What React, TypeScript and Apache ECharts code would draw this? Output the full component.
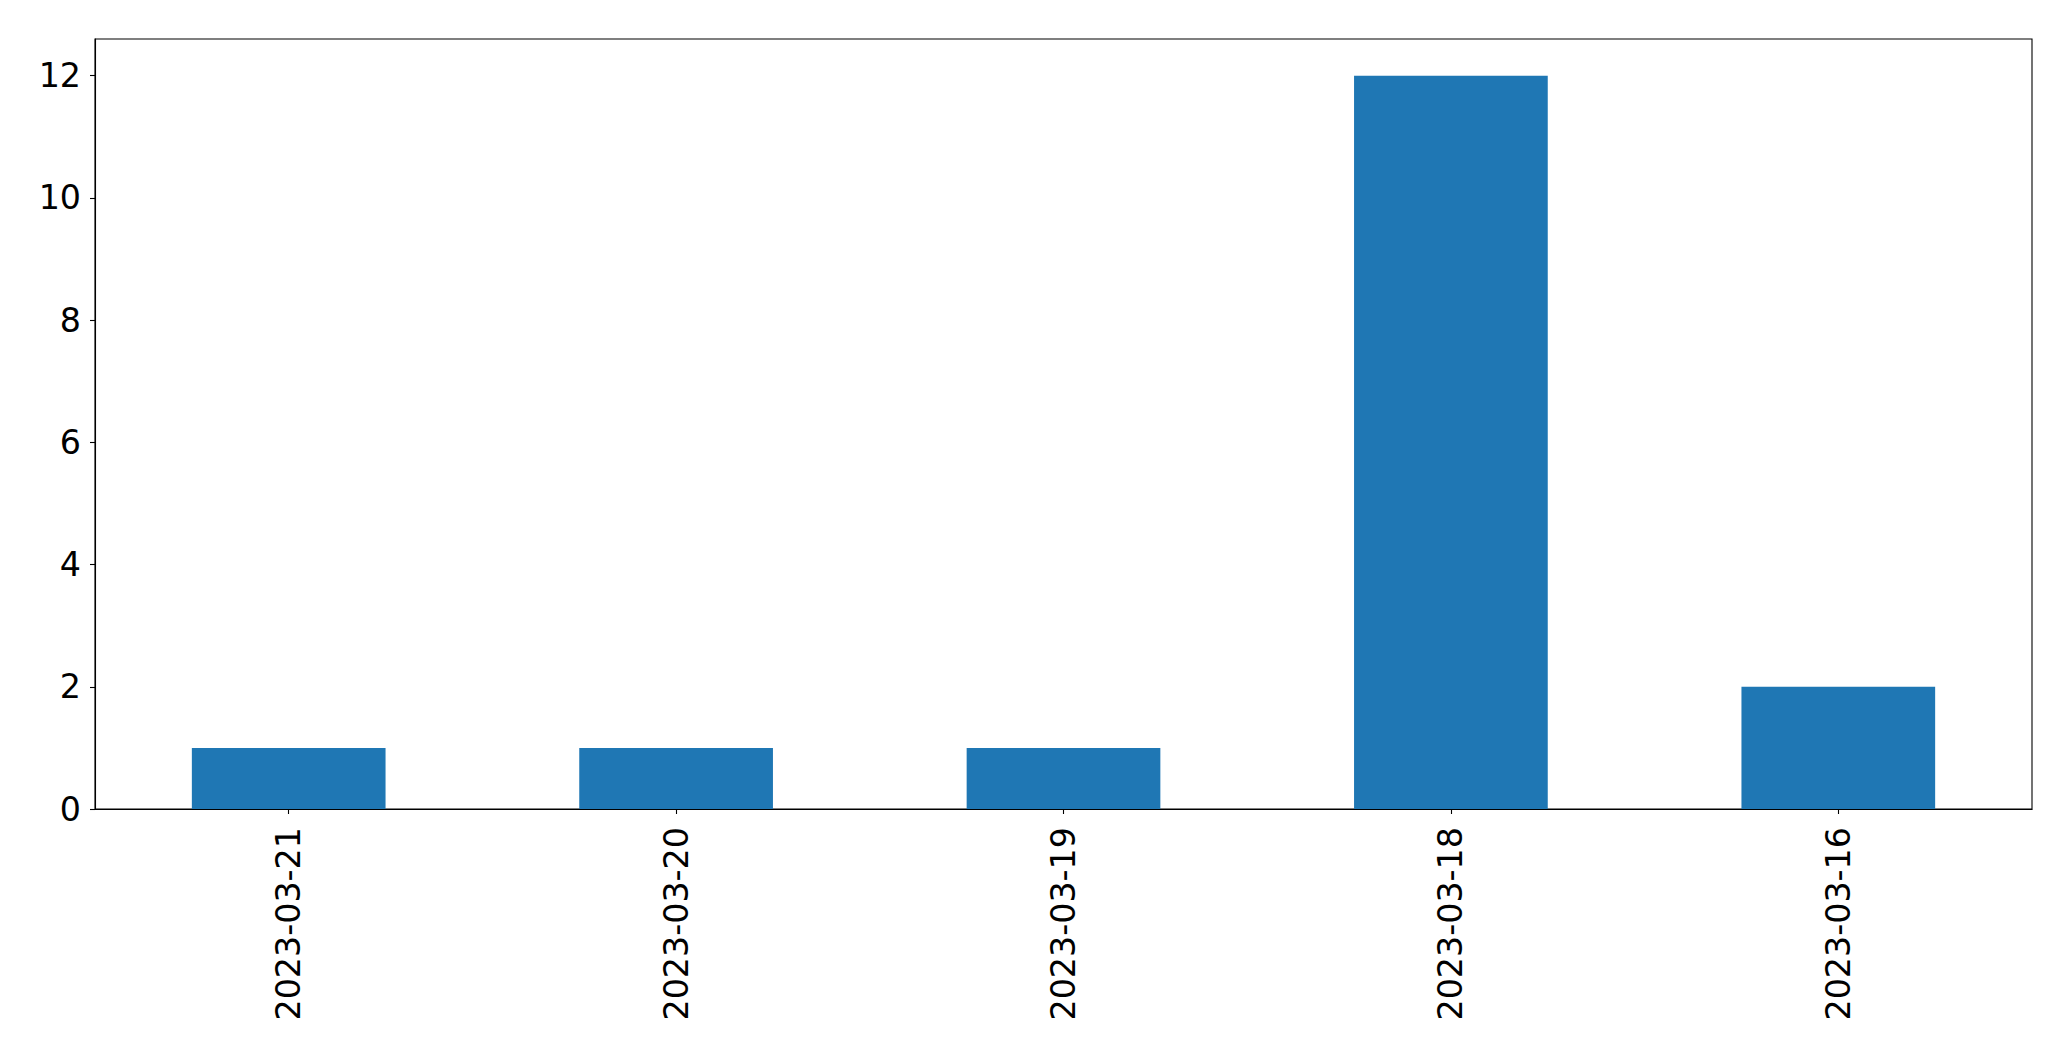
import React, { useEffect, useRef } from "react";
import * as echarts from "echarts";

const categories = ["2023-03-21", "2023-03-20", "2023-03-19", "2023-03-18", "2023-03-16"];
const counts = [1, 1, 1, 12, 2];
const yTicks = [0, 2, 4, 6, 8, 10, 12];

export default function App() {
  const ref = useRef<HTMLDivElement>(null);
  useEffect(() => {
    if (!ref.current) return;
    const chart = echarts.init(ref.current, null, { renderer: "svg" });
    const font = "DejaVu Sans";
    chart.setOption({
      animation: false,
      backgroundColor: "#ffffff",
      grid: {
        left: 95,
        right: 39,
        top: 39,
        bottom: 252,
        show: true,
        borderColor: "#000000",
        borderWidth: 1.1,
        backgroundColor: "transparent",
      },
      xAxis: {
        type: "category",
        data: categories,
        axisLine: { show: true, lineStyle: { color: "#000000", width: 1.1 } },
        axisTick: { show: true, alignWithLabel: true, length: 5, lineStyle: { color: "#000000", width: 1.1 } },
        axisLabel: {
          rotate: 90,
          margin: 18,
          color: "#000000",
          fontFamily: font,
          fontSize: 33.3,
        },
        splitLine: { show: false },
      },
      yAxis: {
        type: "value",
        min: 0,
        max: 12.6,
        interval: 2,
        axisLine: { show: true, lineStyle: { color: "#000000", width: 1.1 } },
        axisTick: { show: true, length: 5, customValues: yTicks, lineStyle: { color: "#000000", width: 1.1 } },
        axisLabel: {
          margin: 14,
          color: "#000000",
          fontFamily: font,
          fontSize: 33.3,
          customValues: yTicks,
        },
        splitLine: { show: false },
      },
      series: [
        {
          type: "bar",
          data: counts,
          barWidth: "50%",
          itemStyle: { color: "#1f77b4" },
        },
      ],
    });
    return () => chart.dispose();
  }, []);
  return (
    <div
      ref={ref}
      style={{ position: "fixed", left: 0, top: 0, width: 2071, height: 1061, background: "#ffffff" }}
    />
  );
}
